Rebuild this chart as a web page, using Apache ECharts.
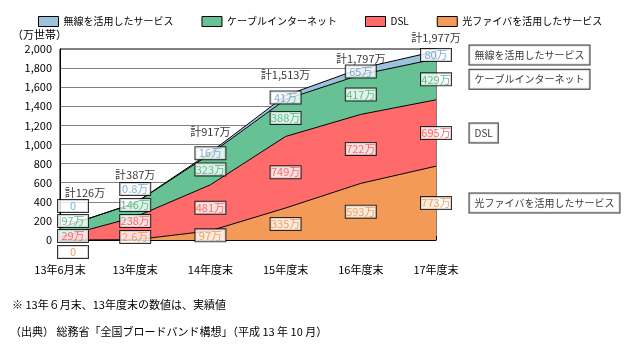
<!DOCTYPE html>
<html><head><meta charset="utf-8">
<script src="https://cdn.jsdelivr.net/npm/echarts@6/dist/echarts.min.js"></script>
<style>html,body{margin:0;padding:0;background:#fff}#c{width:628px;height:350px}</style>
</head><body><div id="c"></div>
<script>
const categories = ['13年6月末','13年度末','14年度末','15年度末','16年度末','17年度末'];
const fiber    = [0, 2.6, 97, 335, 593, 773];
const dsl      = [29, 238, 481, 749, 722, 695];
const cable    = [97, 146, 323, 388, 417, 429];
const wireless = [0, 0.8, 16, 41, 65, 80];
const totals   = [126, 387, 917, 1513, 1797, 1977];
const seriesNames = ['光ファイバを活用したサービス','DSL','ケーブルインターネット','無線を活用したサービス'];
const yMin = 0, yMax = 2000, yInterval = 200;

const FONT = '"Noto Sans CJK JP","Noto Sans",sans-serif';
const fills = ['#F39A58','#FF6B6B','#66C195','#9CC3DE'];
const textCols = ['#EE8A40','#F24F4F','#3FAF72','#5E9ACB'];
const layers = [fiber, dsl, cable, wireless];
// pixel label offsets for crowded categories [cat][layer]
const crowdOffsets = {0: {dx: 13, dy: [12, -4, -19, -34]}, 1: {dx: 0, dy: [-3, -19, -35, -51]}};
const totalOffsets = [[25,-35],[0,-28],[0,-21],[0,-21],[0,-10],[0,-13]];

function fmtVal(v){ return v === 0 ? '0' : v + '万'; }
function fmtTotal(v){ return '計' + v.toLocaleString('en-US') + '万'; }

const series = [];
layers.forEach((arr, li) => {
  series.push({
    name: seriesNames[li], type: 'line', stack: 'all', data: arr,
    symbol: 'none', silent: true,
    lineStyle: {color: '#000', width: 1},
    itemStyle: {color: fills[li]},
    areaStyle: {color: fills[li], opacity: 1},
    z: 2
  });
});
layers.forEach((arr, li) => {
  const data = arr.map((v, i) => {
    let base = 0;
    for (let k = 0; k < li; k++) base += layers[k][i];
    if (crowdOffsets[i]) {
      return {value: [i, 0], label: {offset: [crowdOffsets[i].dx, crowdOffsets[i].dy[li]]}};
    }
    return {value: [i, base + v / 2]};
  });
  series.push({
    type: 'scatter', data, symbolSize: 1, silent: true, clip: false, z: 5,
    itemStyle: {color: 'rgba(0,0,0,0)'},
    label: {
      show: true, position: 'inside', fontFamily: FONT, fontSize: 11, color: textCols[li],
      formatter: p => fmtVal(arr[p.dataIndex]),
      backgroundColor: '#fff', borderColor: '#000', borderWidth: 1,
      width: 28, height: 11, lineHeight: 12, align: 'center', padding: [1, 1, 0, 1]
    }
  });
});
// totals
series.push({
  type: 'scatter', symbolSize: 1, silent: true, clip: false, z: 5,
  itemStyle: {color: 'rgba(0,0,0,0)'},
  data: totals.map((t, i) => ({value: [i, t], label: {offset: totalOffsets[i]}})),
  label: {show: true, position: 'inside', fontFamily: FONT, fontSize: 11, color: '#000',
    formatter: p => fmtTotal(totals[p.dataIndex])}
});
// right-side name boxes
const last = categories.length - 1;
series.push({
  type: 'scatter', symbolSize: 1, silent: true, clip: false, z: 5,
  itemStyle: {color: 'rgba(0,0,0,0)'},
  data: layers.map((arr, li) => {
    let base = 0;
    for (let k = 0; k < li; k++) base += layers[k][last];
    return {value: [last, base + arr[last] / 2], name: seriesNames[li]};
  }),
  label: {show: true, position: 'right', distance: 33, fontFamily: FONT, fontSize: 10, color: '#000',
    formatter: p => p.name, backgroundColor: '#fff', borderColor: '#000', borderWidth: 1,
    padding: [5, 5, 4, 5]}
});

const chart = echarts.init(document.getElementById('c'), null, {renderer: 'canvas'});
chart.setOption({
  animation: false,
  textStyle: {fontFamily: FONT},
  grid: {left: 60, right: 192, top: 49, bottom: 110, show: true, borderColor: '#000', borderWidth: 1, backgroundColor: 'transparent'},
  legend: {
    data: ['無線を活用したサービス','ケーブルインターネット','DSL','光ファイバを活用したサービス'],
    left: 33, top: 11, itemWidth: 20, itemHeight: 10, itemGap: 28, icon: 'rect',
    itemStyle: {borderColor: '#000', borderWidth: 1},
    textStyle: {fontFamily: FONT, fontSize: 10, color: '#000'}
  },
  xAxis: {
    type: 'category', data: categories, boundaryGap: false,
    axisLine: {lineStyle: {color: '#000'}},
    axisTick: {show: true, inside: true, length: 4, lineStyle: {color: '#000'}},
    axisLabel: {fontFamily: FONT, fontSize: 11, color: '#000', margin: 24}
  },
  yAxis: {
    type: 'value', min: yMin, max: yMax, interval: yInterval,
    axisLine: {show: true, lineStyle: {color: '#000'}},
    axisTick: {show: false},
    splitLine: {lineStyle: {color: '#808080'}},
    axisLabel: {fontFamily: FONT, fontSize: 11, color: '#000', margin: 8,
      formatter: v => v.toLocaleString('en-US')}
  },
  graphic: [
    {type: 'text', left: 12, top: 29, style: {text: '（万世帯）', font: '11px ' + FONT, fill: '#000'}},
    {type: 'text', left: 12, top: 299, style: {text: '※ 13年６月末、13年度末の数値は、実績値', font: '11px ' + FONT, fill: '#000'}},
    {type: 'text', left: 10, top: 326, style: {text: '（出典） 総務省「全国ブロードバンド構想」（平成 13 年 10 月）', font: '11px ' + FONT, fill: '#000'}}
  ],
  series
});
</script></body></html>
